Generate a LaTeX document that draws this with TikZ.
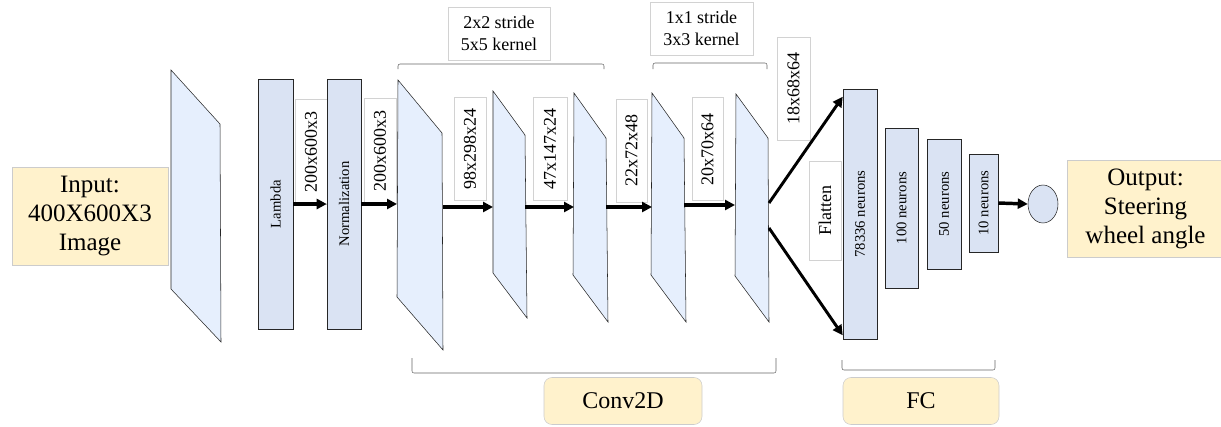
\documentclass[tikz,border=0pt]{standalone}
\usepackage{fontspec}
\setmainfont{Liberation Serif}
\usetikzlibrary{arrows.meta,shapes.geometric}
\definecolor{layerblue}{HTML}{DAE3F3}
\definecolor{mapblue}{HTML}{E6EFFD}
\definecolor{noteyellow}{HTML}{FFF2CC}
\begin{document}
\begin{tikzpicture}[x=0.75pt,y=-0.75pt,
  layer/.style={draw=black!85,fill=layerblue,rotate=90,inner sep=0pt,font=\fontsize{11}{13}\selectfont},
  fmap/.style={draw=black!85,fill=mapblue},
  dimlabel/.style={draw=gray!35,fill=white,rotate=90,inner sep=0pt,font=\fontsize{13.5}{15}\selectfont},
  note/.style={draw=gray!40,fill=noteyellow,inner sep=0pt,align=center,font=\fontsize{18.75}{21.75}\selectfont},
  flow/.style={line width=2.6pt,-{Triangle[length=7.5pt,width=7.5pt]}},
  brace/.style={draw=gray!80!black,rounded corners=1.5pt}]
\useasboundingbox (0,0) rectangle (1221,426);
% input
\node (input) [note,minimum width=117pt,minimum height=73.5pt] at (90,216) {Input:\\400X600X3\\Image};
\draw [fmap] (171,70) -- (220,124) -- (221,342) -- (171,289) -- cycle;
% lambda and normalization
\node (lambda) [layer,minimum width=187.5pt,minimum height=26.25pt] at (275.5,204) {Lambda};
\node (dimA) [dimlabel,minimum width=78.75pt,minimum height=24pt] at (311,151.5) {200x600x3};
\node (norm) [layer,minimum width=187.5pt,minimum height=25.5pt] at (344,204) {Normalization};
\node (dimB) [dimlabel,minimum width=78.75pt,minimum height=24pt] at (380,150.5) {200x600x3};
% conv feature maps
\draw [fmap] (398,80) -- (442,133) -- (443,350) -- (397,297) -- cycle;
\draw [fmap] (493,91) -- (525,135) -- (527,318) -- (493,273) -- cycle;
\draw [fmap] (574,93) -- (606,138) -- (608,322) -- (573,275) -- cycle;
\draw [fmap] (652,93) -- (684,138) -- (686,322) -- (651,275) -- cycle;
\draw [fmap] (736,94) -- (768,138) -- (769,322) -- (735,276) -- cycle;
\coordinate (cAin) at (397,204);
\coordinate (cAout) at (443,207);
\coordinate (cBin) at (493,207);
\coordinate (cBout) at (525,207);
\coordinate (cCin) at (574,207);
\coordinate (cCout) at (606,207);
\coordinate (cDin) at (652,207);
\coordinate (cDout) at (684,205);
\coordinate (cEin) at (735,205);
\coordinate (cEup) at (769,203);
\coordinate (cEdn) at (769,228);
\node (dimC) [dimlabel,minimum width=77.25pt,minimum height=24pt] at (470,148.5) {98x298x24};
\node (dimD) [dimlabel,minimum width=77.25pt,minimum height=25.5pt] at (550,148.5) {47x147x24};
\node (dimE) [dimlabel,minimum width=77.25pt,minimum height=23.25pt] at (631.5,150.5) {22x72x48};
\node (dimF) [dimlabel,minimum width=77.25pt,minimum height=23.25pt] at (707.5,149) {20x70x64};
\node (dimG) [dimlabel,minimum width=77.25pt,minimum height=24.75pt] at (793.5,88.5) {18x68x64};
\node (flat) [dimlabel,minimum width=74.25pt,minimum height=24pt] at (825,210.5) {Flatten};
% stride notes
\node (strideA) [draw=gray!35,align=center,inner sep=0pt,minimum width=76.5pt,minimum height=39.75pt,font=\fontsize{13.5}{16.5}\selectfont] at (499,33.5) {2x2 stride\\5x5 kernel};
\node (strideB) [draw=gray!35,align=center,inner sep=0pt,minimum width=77.25pt,minimum height=39.75pt,font=\fontsize{13.5}{16.5}\selectfont] at (701.5,28.5) {1x1 stride\\3x3 kernel};
\draw [brace] (398,69) -- (398,64) -- (604,64) -- (604,69);
\draw [brace] (653,69) -- (653,63) -- (767,63) -- (767,69);
% fully connected
\node (fcA) [layer,minimum width=187.5pt,minimum height=25.5pt] at (860,214) {78336 neurons};
\node (fcB) [layer,minimum width=120pt,minimum height=24.75pt] at (901.5,208) {100 neurons};
\node (fcC) [layer,minimum width=97.5pt,minimum height=25.5pt] at (944,204) {50 neurons};
\node (fcD) [layer,minimum width=73.5pt,minimum height=21.75pt] at (983.5,203) {10 neurons};
\node (out) [ellipse,draw=black!85,fill=layerblue,minimum width=22.5pt,minimum height=28.5pt,inner sep=0pt] at (1043,204) {};
\node (output) [note,minimum width=117.75pt,minimum height=72.75pt] at (1145.5,208.5) {Output:\\Steering\\wheel angle};
% arrows
\draw [flow] (lambda.south) -- (norm.north);
\draw [flow] (norm.south) -- (cAin);
\draw [flow] (cAout) -- (cBin);
\draw [flow] (cBout) -- (cCin);
\draw [flow] (cCout) -- (cDin);
\draw [flow] (cDout) -- (cEin);
\draw [flow,line width=2.2pt] (cEup) -- ([yshift=-6pt]fcA.north east);
\draw [flow,line width=2.2pt] (cEdn) -- ([yshift=3pt]fcA.north west);
\draw [flow] (fcD.south) -- (out.west);
% groups
\draw [brace] (412,358) -- (412,373) -- (776,373) -- (776,358);
\draw [brace] (842,360) -- (842,370) -- (995,370) -- (995,360);
\node (conv) [note,rounded corners=6pt,minimum width=118.5pt,minimum height=35.25pt,font=\fontsize{18}{21}\selectfont] at (623,401) {Conv2D};
\node (fc) [note,rounded corners=6pt,minimum width=117pt,minimum height=35.25pt,font=\fontsize{18}{21}\selectfont] at (921,401) {FC};
\end{tikzpicture}
\end{document}
